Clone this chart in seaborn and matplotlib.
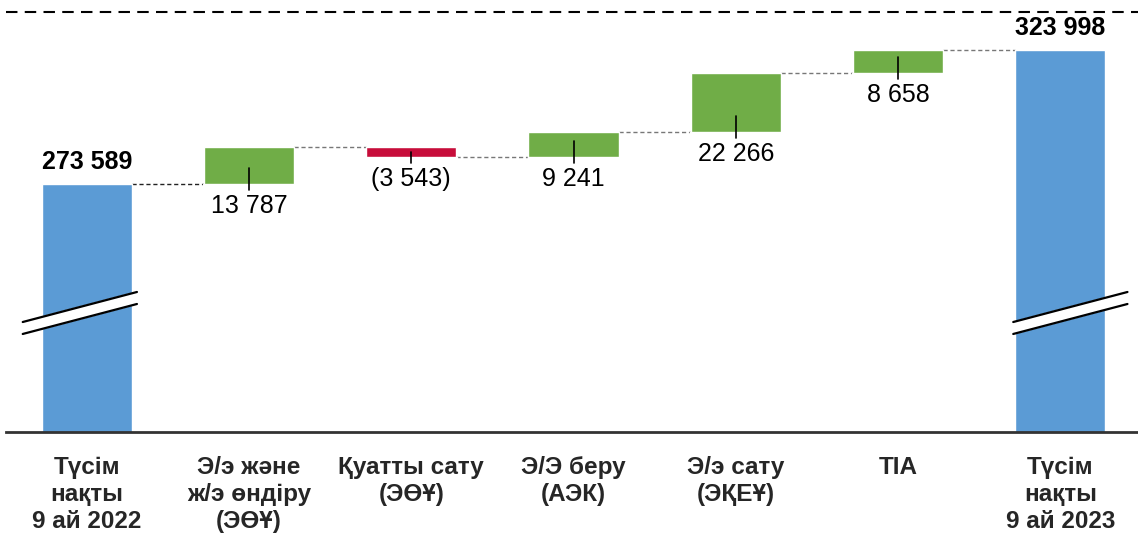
import pandas as pd
import matplotlib.pyplot as plt
import matplotlib.transforms as mtransforms
import seaborn as sns

# Data
categories = ['Түсім\nнақты\n9 ай 2022', 'Э/э және\nж/э өндіру\n(ЭӨҰ)', 'Қуатты сату\n(ЭӨҰ)',
              'Э/Э беру\n(АЭК)', 'Э/э сату\n(ЭҚЕҰ)', 'TIA', 'Түсім\nнақты\n9 ай 2023']
start_total = 273589
deltas = [13787, -3543, 9241, 22266, 8658]
end_total = 323998

sns.set_theme(style='white')
plt.rcParams['font.family'] = ['Liberation Sans', 'DejaVu Sans']

# running totals -> bar tops / bases
levels = [start_total]
for d in deltas:
    levels.append(levels[-1] + d)
tops = [start_total] + [max(levels[i], levels[i + 1]) for i in range(len(deltas))] + [end_total]
bases = [float('nan')] + [min(levels[i], levels[i + 1]) for i in range(len(deltas))] + [float('nan')]
kinds = ['total'] + ['up' if d >= 0 else 'down' for d in deltas] + ['total']

df = pd.DataFrame({'label': categories, 'top': tops, 'base': bases, 'kind': kinds})
colors = {'total': '#5B9BD5', 'up': '#70AD47', 'down': '#C70D3A'}

fig = plt.figure(figsize=(11.38, 5.33), dpi=100)
ax = fig.add_axes([0.005, 0.1895, 0.998, 0.8105])

W = 0.556
sns.barplot(data=df, x='label', y='top', hue='kind', palette=colors, dodge=False,
            width=W, saturation=1, legend=False, ax=ax, zorder=2)
sns.barplot(data=df, x='label', y='base', color='white', width=W + 0.01,
            saturation=1, ax=ax, zorder=3)

ylo, yhi = 180341, 342773
ax.set_ylim(ylo, yhi)
ax.set_xlim(-0.5, 6.5)
per_px = (yhi - ylo) / 432

# connectors
for i, lv in enumerate(levels):
    c = '#222222' if i == 0 else '#777777'
    ax.plot([i + W / 2, i + 1 - W / 2], [lv, lv], ls=(0, (3, 2)), lw=1, color=c, zorder=1)

# total labels
for i, v in [(0, start_total), (6, end_total)]:
    ax.annotate(f'{v:,}'.replace(',', ' '), (i, v), xytext=(0, 7), textcoords='offset points',
                ha='center', va='bottom', fontsize=18, fontweight='bold', color='black')

# delta labels with leader ticks
for j, d in enumerate(deltas):
    i = j + 1
    b = bases[i]
    t = tops[i]
    txt = f'{abs(d):,}'.replace(',', ' ')
    if d < 0:
        txt = f'({txt})'
    ax.plot([i, i], [min(b + 16 * per_px, t - 5 * per_px), b - 6 * per_px],
            color='black', lw=1.2, zorder=4)
    ax.text(i, b - 10 * per_px, txt, ha='center', va='top', fontsize=18, color='black')

# top dashed line
ax.axhline(ylo + 420 * per_px, color='black', lw=1.5, ls=(0, (5.5, 3.5)), clip_on=False)

# axis break marks
trans = mtransforms.blended_transform_factory(ax.transData, ax.transAxes)
for cx, x0, x1 in [(0, -0.395, 0.309), (6, -0.29, 0.414)]:
    xs = [cx + x0, cx + x1]
    ax.fill([xs[0], xs[1], xs[1], xs[0]], [0.2546, 0.3241, 0.2963, 0.2269],
            color='white', transform=trans, zorder=5)
    ax.plot(xs, [0.2546, 0.3241], color='black', lw=1.6, transform=trans, zorder=6)
    ax.plot(xs, [0.2269, 0.2963], color='black', lw=1.6, transform=trans, zorder=6)

sns.despine(ax=ax, left=True, top=True, right=True)
ax.spines['bottom'].set_color('#333333')
ax.spines['bottom'].set_linewidth(2)
ax.spines['bottom'].set_zorder(10)
ax.set_yticks([])
ax.set_xlabel('')
ax.set_ylabel('')
ax.tick_params(axis='x', length=0, pad=17)
for lbl in ax.get_xticklabels():
    lbl.set_fontsize(17.5)
    lbl.set_fontweight('bold')
    lbl.set_linespacing(1.22)
    lbl.set_va('top')
    lbl.set_ha('center')

fig.savefig('out.png', dpi=100)
